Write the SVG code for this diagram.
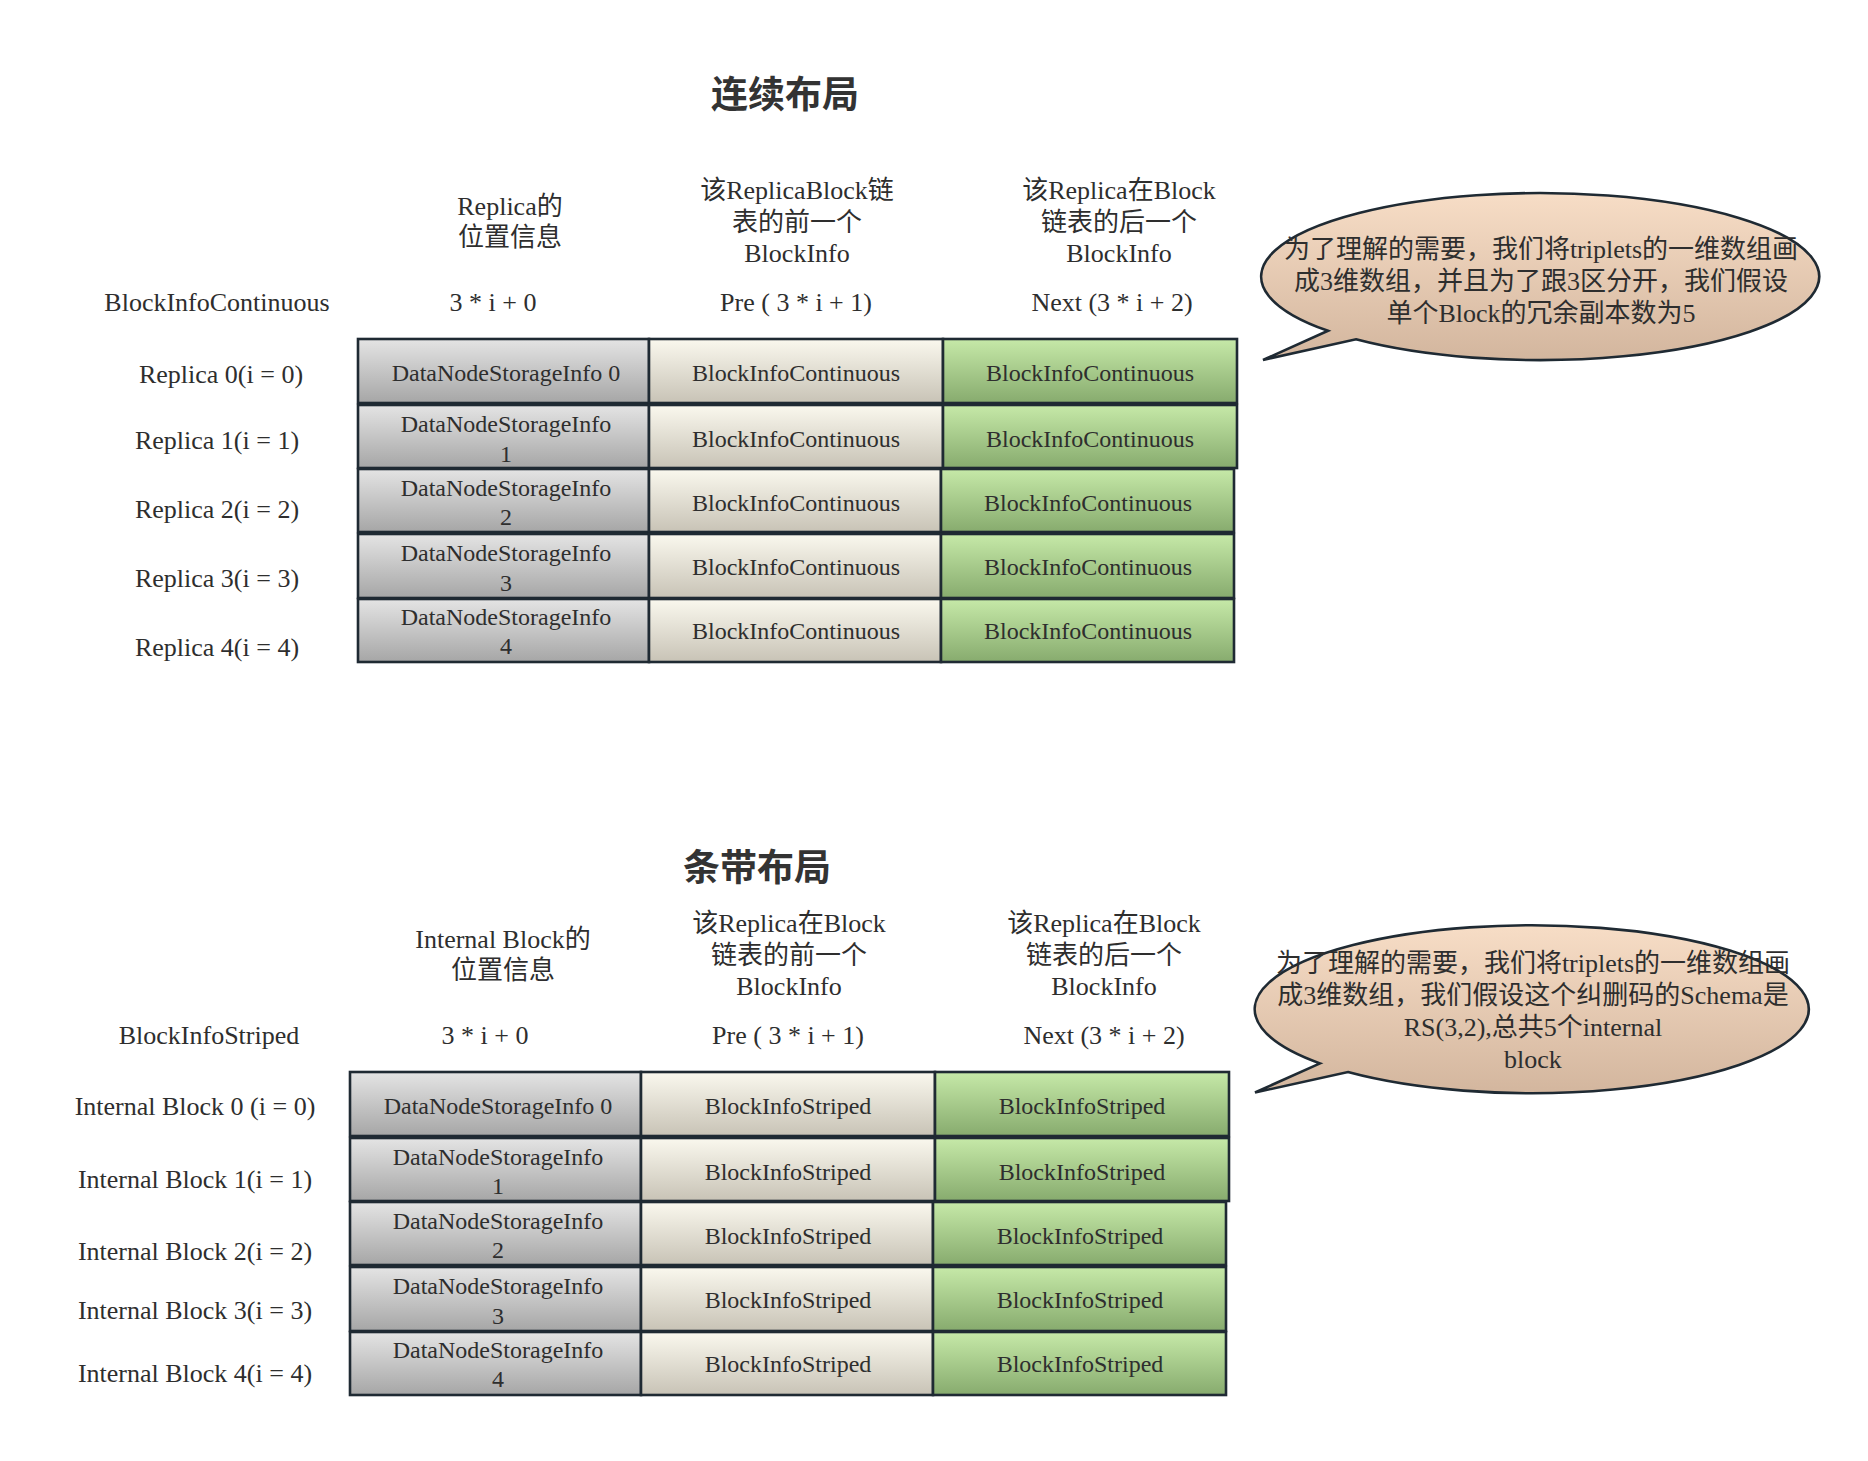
<svg xmlns="http://www.w3.org/2000/svg" width="1868" height="1461" viewBox="0 0 1868 1461">
<defs>
<linearGradient id="gGray" x1="0" y1="0" x2="0" y2="1"><stop offset="0" stop-color="#e4e4e4"/><stop offset="1" stop-color="#a6a6a6"/></linearGradient>
<linearGradient id="gBeige" x1="0" y1="0" x2="0" y2="1"><stop offset="0" stop-color="#faf8ee"/><stop offset="1" stop-color="#c8c3b6"/></linearGradient>
<linearGradient id="gGreen" x1="0" y1="0" x2="0" y2="1"><stop offset="0" stop-color="#c6e9a8"/><stop offset="1" stop-color="#87ab6e"/></linearGradient>
<linearGradient id="gPeach" x1="0" y1="0" x2="0" y2="1"><stop offset="0" stop-color="#f7ddc6"/><stop offset="1" stop-color="#d3b69e"/></linearGradient>
</defs>
<style>
text{font-family:"Liberation Serif","Noto Sans CJK SC",serif;fill:#2e2e2e;text-anchor:middle}
.h{font-size:26px}
.c{font-size:24px}
.t{font-size:37px;font-weight:bold;fill:#333}
.cell{stroke:#1f2a33;stroke-width:2.6}
.gray{fill:url(#gGray)}
.beige{fill:url(#gBeige)}
.green{fill:url(#gGreen)}
.bubble{fill:url(#gPeach);stroke:#1f2a33;stroke-width:2.6}
</style>
<rect width="1868" height="1461" fill="#ffffff"/>
<g id="connectors"/>

<!-- ===== Top section ===== -->
<g id="title-continuous"><text class="t" x="785" y="108">连续布局</text></g>

<g id="header-top">
<text class="h" x="510" y="215">Replica的</text>
<text class="h" x="510" y="246">位置信息</text>
<text class="h" x="797" y="199">该ReplicaBlock链</text>
<text class="h" x="797" y="231">表的前一个</text>
<text class="h" x="797" y="262">BlockInfo</text>
<text class="h" x="1119" y="199">该Replica在Block</text>
<text class="h" x="1119" y="231">链表的后一个</text>
<text class="h" x="1119" y="262">BlockInfo</text>
<text class="h" x="217" y="311">BlockInfoContinuous</text>
<text class="h" x="493" y="311">3 * i + 0</text>
<text class="h" x="796" y="311">Pre ( 3 * i + 1)</text>
<text class="h" x="1112" y="311">Next (3 * i + 2)</text>
</g>

<g id="labels-top">
<text class="h" x="221" y="383">Replica 0(i = 0)</text>
<text class="h" x="217" y="449">Replica 1(i = 1)</text>
<text class="h" x="217" y="518">Replica 2(i = 2)</text>
<text class="h" x="217" y="587">Replica 3(i = 3)</text>
<text class="h" x="217" y="656">Replica 4(i = 4)</text>
</g>

<g id="row-top-0">
<rect class="cell gray" x="358" y="339" width="291" height="64"/>
<rect class="cell beige" x="649" y="339" width="294" height="64"/>
<rect class="cell green" x="943" y="339" width="294" height="64"/>
<text class="c" x="506" y="381">DataNodeStorageInfo 0</text>
<text class="c" x="796" y="380.5">BlockInfoContinuous</text>
<text class="c" x="1090" y="380.5">BlockInfoContinuous</text>
</g>
<g id="row-top-1">
<rect class="cell gray" x="358" y="405" width="291" height="63"/>
<rect class="cell beige" x="649" y="405" width="294" height="63"/>
<rect class="cell green" x="943" y="405" width="294" height="63"/>
<text class="c" x="506" y="431.5">DataNodeStorageInfo</text>
<text class="c" x="506" y="461.5">1</text>
<text class="c" x="796" y="446.5">BlockInfoContinuous</text>
<text class="c" x="1090" y="446.5">BlockInfoContinuous</text>
</g>
<g id="row-top-2">
<rect class="cell gray" x="358" y="469" width="291" height="63"/>
<rect class="cell beige" x="649" y="469" width="292" height="63"/>
<rect class="cell green" x="941" y="469" width="293" height="63"/>
<text class="c" x="506" y="496">DataNodeStorageInfo</text>
<text class="c" x="506" y="525">2</text>
<text class="c" x="796" y="511">BlockInfoContinuous</text>
<text class="c" x="1088" y="511">BlockInfoContinuous</text>
</g>
<g id="row-top-3">
<rect class="cell gray" x="358" y="534" width="291" height="64"/>
<rect class="cell beige" x="649" y="534" width="292" height="64"/>
<rect class="cell green" x="941" y="534" width="293" height="64"/>
<text class="c" x="506" y="561">DataNodeStorageInfo</text>
<text class="c" x="506" y="591">3</text>
<text class="c" x="796" y="575">BlockInfoContinuous</text>
<text class="c" x="1088" y="575">BlockInfoContinuous</text>
</g>
<g id="row-top-4">
<rect class="cell gray" x="358" y="599" width="291" height="63"/>
<rect class="cell beige" x="649" y="599" width="292" height="63"/>
<rect class="cell green" x="941" y="599" width="293" height="63"/>
<text class="c" x="506" y="625">DataNodeStorageInfo</text>
<text class="c" x="506" y="654">4</text>
<text class="c" x="796" y="638.5">BlockInfoContinuous</text>
<text class="c" x="1088" y="638.5">BlockInfoContinuous</text>
</g>

<g id="bubble-top">
<path class="bubble" d="M1328,330.8 L1263,360 L1356,339.3 A279,83.5 0 1 0 1328,330.8 Z"/>
<text class="h" x="1541" y="258">为了理解的需要，我们将triplets的一维数组画</text>
<text class="h" x="1541" y="290">成3维数组，并且为了跟3区分开，我们假设</text>
<text class="h" x="1541" y="322">单个Block的冗余副本数为5</text>
</g>

<!-- ===== Bottom section ===== -->
<g id="title-striped"><text class="t" x="757" y="881">条带布局</text></g>

<g id="header-bottom">
<text class="h" x="503" y="948">Internal Block的</text>
<text class="h" x="503" y="979">位置信息</text>
<text class="h" x="789" y="932">该Replica在Block</text>
<text class="h" x="789" y="964">链表的前一个</text>
<text class="h" x="789" y="995">BlockInfo</text>
<text class="h" x="1104" y="932">该Replica在Block</text>
<text class="h" x="1104" y="964">链表的后一个</text>
<text class="h" x="1104" y="995">BlockInfo</text>
<text class="h" x="209" y="1044">BlockInfoStriped</text>
<text class="h" x="485" y="1044">3 * i + 0</text>
<text class="h" x="788" y="1044">Pre ( 3 * i + 1)</text>
<text class="h" x="1104" y="1044">Next (3 * i + 2)</text>
</g>

<g id="labels-bottom">
<text class="h" x="195" y="1115">Internal Block 0 (i = 0)</text>
<text class="h" x="195" y="1188">Internal Block 1(i = 1)</text>
<text class="h" x="195" y="1260">Internal Block 2(i = 2)</text>
<text class="h" x="195" y="1319">Internal Block 3(i = 3)</text>
<text class="h" x="195" y="1382">Internal Block 4(i = 4)</text>
</g>

<g id="row-bottom-0">
<rect class="cell gray" x="350" y="1072" width="291" height="64"/>
<rect class="cell beige" x="641" y="1072" width="294" height="64"/>
<rect class="cell green" x="935" y="1072" width="294" height="64"/>
<text class="c" x="498" y="1114">DataNodeStorageInfo 0</text>
<text class="c" x="788" y="1113.5">BlockInfoStriped</text>
<text class="c" x="1082" y="1113.5">BlockInfoStriped</text>
</g>
<g id="row-bottom-1">
<rect class="cell gray" x="350" y="1138" width="291" height="63"/>
<rect class="cell beige" x="641" y="1138" width="294" height="63"/>
<rect class="cell green" x="935" y="1138" width="294" height="63"/>
<text class="c" x="498" y="1165">DataNodeStorageInfo</text>
<text class="c" x="498" y="1194">1</text>
<text class="c" x="788" y="1179.5">BlockInfoStriped</text>
<text class="c" x="1082" y="1179.5">BlockInfoStriped</text>
</g>
<g id="row-bottom-2">
<rect class="cell gray" x="350" y="1202" width="291" height="63"/>
<rect class="cell beige" x="641" y="1202" width="292" height="63"/>
<rect class="cell green" x="933" y="1202" width="293" height="63"/>
<text class="c" x="498" y="1228.5">DataNodeStorageInfo</text>
<text class="c" x="498" y="1258">2</text>
<text class="c" x="788" y="1244">BlockInfoStriped</text>
<text class="c" x="1080" y="1244">BlockInfoStriped</text>
</g>
<g id="row-bottom-3">
<rect class="cell gray" x="350" y="1267" width="291" height="64"/>
<rect class="cell beige" x="641" y="1267" width="292" height="64"/>
<rect class="cell green" x="933" y="1267" width="293" height="64"/>
<text class="c" x="498" y="1293.5">DataNodeStorageInfo</text>
<text class="c" x="498" y="1323.5">3</text>
<text class="c" x="788" y="1308">BlockInfoStriped</text>
<text class="c" x="1080" y="1308">BlockInfoStriped</text>
</g>
<g id="row-bottom-4">
<rect class="cell gray" x="350" y="1332" width="291" height="63"/>
<rect class="cell beige" x="641" y="1332" width="292" height="63"/>
<rect class="cell green" x="933" y="1332" width="293" height="63"/>
<text class="c" x="498" y="1357.5">DataNodeStorageInfo</text>
<text class="c" x="498" y="1387">4</text>
<text class="c" x="788" y="1371.5">BlockInfoStriped</text>
<text class="c" x="1080" y="1371.5">BlockInfoStriped</text>
</g>

<g id="bubble-bottom">
<path class="bubble" d="M1320,1063.4 L1255,1092.5 L1348,1072.1 A277,84 0 1 0 1320,1063.4 Z"/>
<text class="h" x="1533" y="972">为了理解的需要，我们将triplets的一维数组画</text>
<text class="h" x="1533" y="1004">成3维数组，我们假设这个纠删码的Schema是</text>
<text class="h" x="1533" y="1036">RS(3,2),总共5个internal</text>
<text class="h" x="1533" y="1068">block</text>
</g>
</svg>
